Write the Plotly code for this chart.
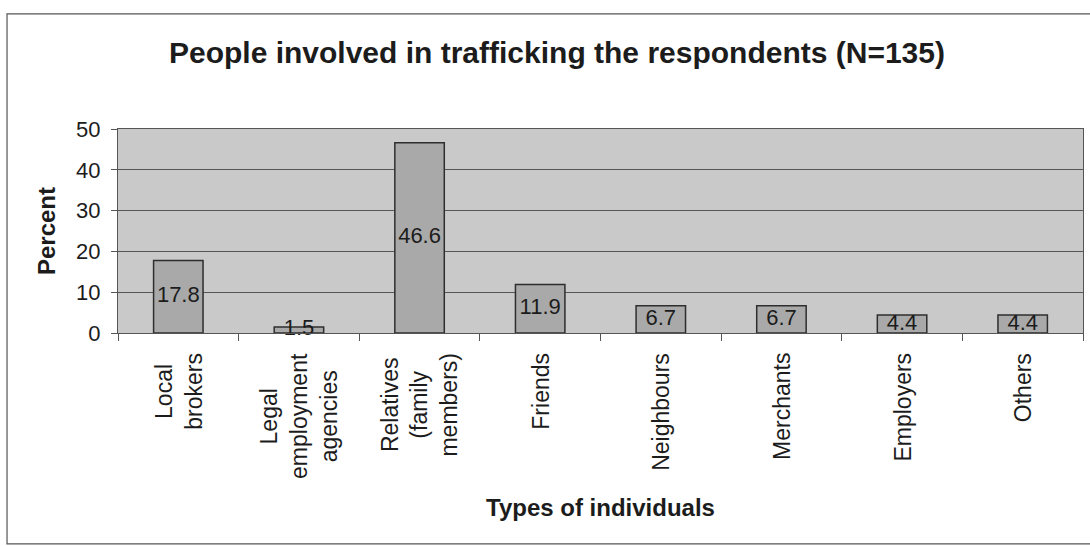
import plotly.graph_objects as go

categories = ["Local<br>brokers", "Legal<br>employment<br>agencies", "Relatives<br>(family<br>members)",
              "Friends", "Neighbours", "Merchants", "Employers", "Others"]
percent = [17.8, 1.5, 46.6, 11.9, 6.7, 6.7, 4.4, 4.4]
value_labels = ["17.8", "1.5", "46.6", "11.9", "6.7", "6.7", "4.4", "4.4"]
y_ticks = [0, 10, 20, 30, 40, 50]

FONT = "Liberation Sans, Arial, sans-serif"
INK = "#1c1c1c"

fig = go.Figure()
fig.add_trace(go.Bar(
    x=categories, y=percent, width=0.41,
    marker=dict(color="#a9a9a9", line=dict(color="#2e2e2e", width=1.5)),
    hoverinfo="skip", showlegend=False,
))
fig.add_trace(go.Scatter(
    x=categories, y=[v / 2 for v in percent], mode="text", text=value_labels,
    textposition="middle center", textfont=dict(family=FONT, size=22, color=INK),
    cliponaxis=False, hoverinfo="skip", showlegend=False,
))

# category labels: rotated, lines centred (as in the reference)
annotations = [
    dict(x=c, y=0, xref="x", yref="paper", text=c, textangle=-90, showarrow=False,
         xanchor="center", yanchor="top", yshift=-18, align="center",
         font=dict(family=FONT, size=23, color=INK))
    for c in categories
]

fig.update_layout(
    width=1090, height=546,
    margin=dict(l=118, r=7, t=129, b=213),
    paper_bgcolor="white", plot_bgcolor="#c9c9c9",
    font=dict(family=FONT, color=INK),
    title=dict(text="<b>People involved in trafficking the respondents (N=135)</b>",
               x=0.511, xanchor="center", y=0.903, yanchor="middle", yref="container",
               font=dict(family=FONT, size=30, color=INK)),
    xaxis=dict(
        type="category", tickson="boundaries", showticklabels=False,
        ticks="outside", ticklen=7, tickcolor="#555", tickwidth=1,
        showline=True, linecolor="#555", linewidth=1, mirror=True,
        showgrid=False,
        title=dict(text="<b>Types of individuals</b>", standoff=166,
                   font=dict(family=FONT, size=24, color=INK)),
    ),
    yaxis=dict(
        range=[0, 50], tickvals=y_ticks,
        ticks="outside", ticklen=6, tickcolor="#555", tickwidth=1,
        showline=True, linecolor="#555", linewidth=1, mirror=True,
        showgrid=True, gridcolor="#555555", gridwidth=1, zeroline=False,
        tickfont=dict(family=FONT, size=22, color=INK), ticklabelstandoff=6,
        title=dict(text="<b>Percent</b>", standoff=13,
                   font=dict(family=FONT, size=24, color=INK)),
    ),
    annotations=annotations,
    shapes=[dict(type="rect", xref="paper", yref="paper",
                 x0=-0.115, x1=1.06, y0=-1.034, y1=1.564,
                 line=dict(color="#555", width=1.2), fillcolor="rgba(0,0,0,0)", layer="below")],
)

fig.write_html("out.html")
